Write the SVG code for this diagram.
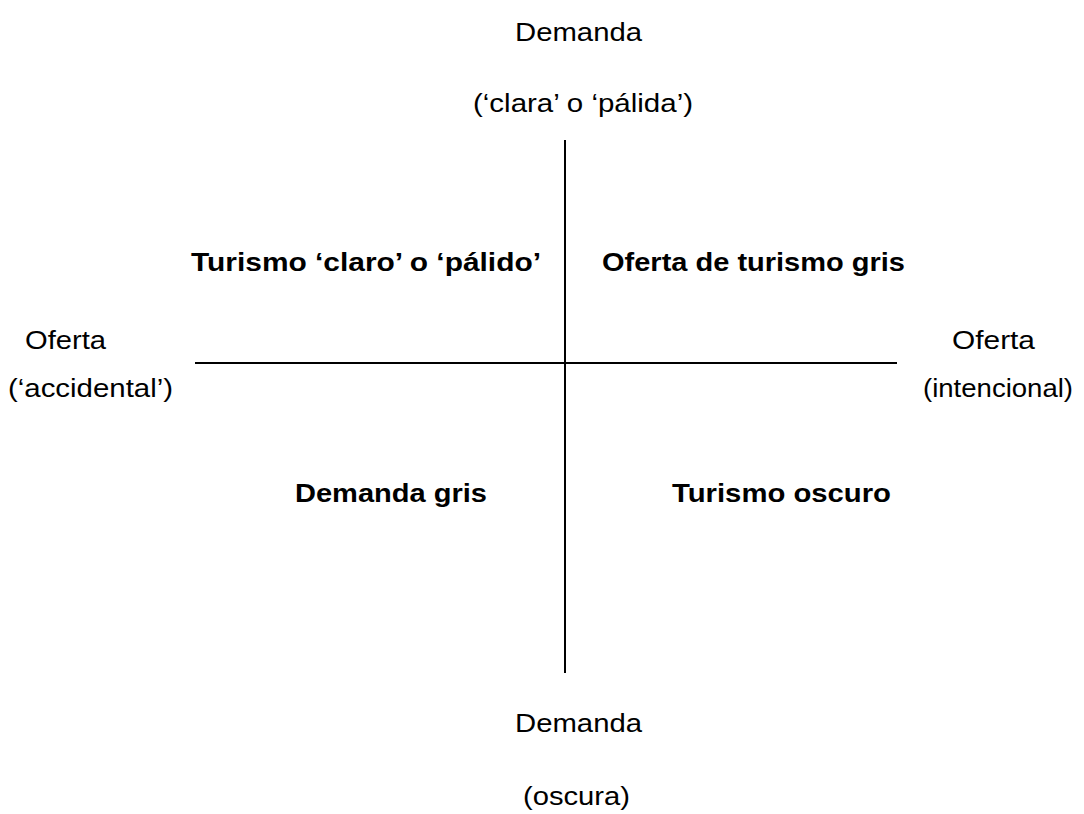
<svg xmlns="http://www.w3.org/2000/svg" width="1084" height="814" viewBox="0 0 1084 814">
<style>
text{font-family:"Liberation Sans",Arial,sans-serif;font-size:25px;fill:#000}
.b{font-weight:bold}
.ax{stroke:#000;stroke-width:2;fill:none}
</style>
<rect width="1084" height="814" fill="#fff"/>
<g id="connectors">
<line class="ax" x1="565" y1="140" x2="565" y2="673"/>
<line class="ax" x1="195" y1="363" x2="897" y2="363"/>
</g>
<g id="top-label">
<text x="515" y="41" textLength="127" lengthAdjust="spacingAndGlyphs">Demanda</text>
<text x="473" y="112" textLength="220" lengthAdjust="spacingAndGlyphs">(‘clara’ o ‘pálida’)</text>
</g>
<g id="left-label">
<text x="25" y="349" textLength="81" lengthAdjust="spacingAndGlyphs">Oferta</text>
<text x="8" y="397" textLength="165" lengthAdjust="spacingAndGlyphs">(‘accidental’)</text>
</g>
<g id="right-label">
<text x="952" y="349" textLength="83" lengthAdjust="spacingAndGlyphs">Oferta</text>
<text x="923" y="397" textLength="150" lengthAdjust="spacingAndGlyphs">(intencional)</text>
</g>
<g id="bottom-label">
<text x="515" y="732" textLength="127" lengthAdjust="spacingAndGlyphs">Demanda</text>
<text x="523" y="805" textLength="107" lengthAdjust="spacingAndGlyphs">(oscura)</text>
</g>
<g id="q-top-left">
<text class="b" x="191" y="271" textLength="350" lengthAdjust="spacingAndGlyphs">Turismo ‘claro’ o ‘pálido’</text>
</g>
<g id="q-top-right">
<text class="b" x="602" y="271" textLength="303" lengthAdjust="spacingAndGlyphs">Oferta de turismo gris</text>
</g>
<g id="q-bottom-left">
<text class="b" x="295" y="502" textLength="192" lengthAdjust="spacingAndGlyphs">Demanda gris</text>
</g>
<g id="q-bottom-right">
<text class="b" x="672" y="502" textLength="219" lengthAdjust="spacingAndGlyphs">Turismo oscuro</text>
</g>
</svg>
